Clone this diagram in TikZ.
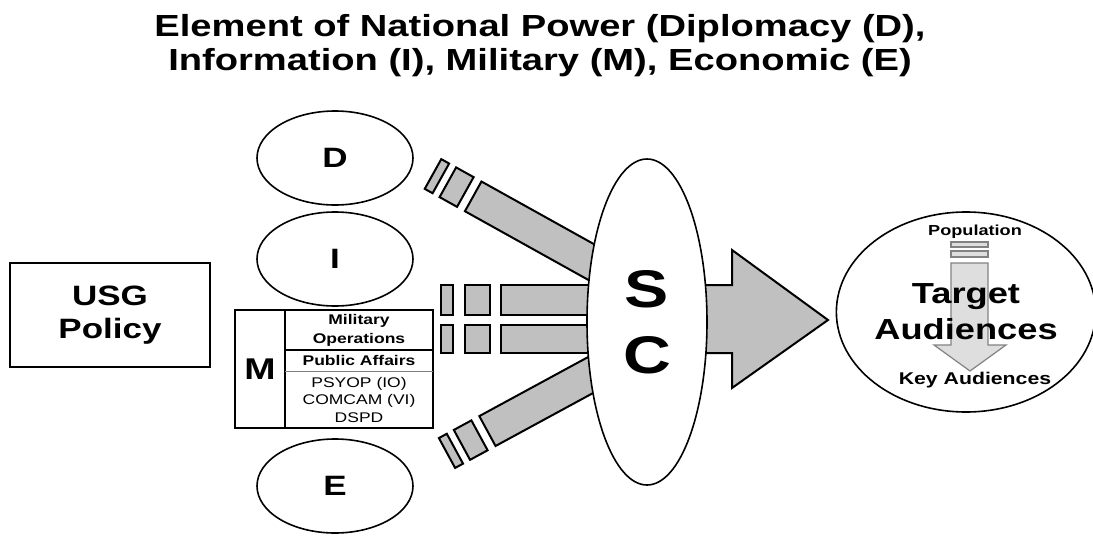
\documentclass[tikz,border=0pt]{standalone}
\usepackage{fontspec}
\setmainfont{Liberation Sans}[FakeStretch=1.25]
\usetikzlibrary{shapes.geometric}
\definecolor{scgrey}{RGB}{192,192,192}
\definecolor{tagrey}{RGB}{222,222,222}
\definecolor{taedge}{RGB}{130,130,130}

\tikzset{
  bar/.style={draw=black,line width=2pt,fill=scgrey},
  tabar/.style={draw=taedge,line width=1.2pt,fill=tagrey},
  elem/.style={ellipse,draw,line width=1.6pt,inner sep=0pt,outer sep=0pt,
    minimum width=156pt,minimum height=94pt,font=\fontsize{28}{28}\selectfont\bfseries},
  mrow/.style={anchor=north west,minimum width=148pt,inner sep=0pt,outer sep=0pt,align=center},
}

\begin{document}
\begin{tikzpicture}[x=1pt,y=-1pt,line join=miter]
  \useasboundingbox (0,0) rectangle (1093,538);

  % title
  \node[align=center,font=\fontsize{30.5}{34}\selectfont\bfseries] (title) at (540,46)
    {Element of National Power (Diplomacy (D),\\Information (I), Military (M), Economic (E)};

  % policy
  \node[draw,line width=1.6pt,minimum width=200pt,minimum height=104pt,align=center,
    font=\fontsize{28}{33}\selectfont\bfseries] (usg) at (110,315) {USG\\Policy};

  % elements of national power
  \node[elem] (D) at (335,158) {D};
  \node[elem] (I) at (335,259) {I};
  \node[elem] (E) at (335,486) {E};

  % military box
  \node[draw,line width=1.6pt,minimum width=50pt,minimum height=118pt,inner sep=0pt,outer sep=0pt,
    font=\fontsize{30}{30}\selectfont\bfseries] (M) at (260,369) {M};
  \node[mrow,minimum height=40pt,font=\fontsize{14}{19}\selectfont\bfseries] (milops) at (M.north east) {Military\\Operations};
  \node[mrow,minimum height=21pt,font=\fontsize{14}{17}\selectfont\bfseries] (pa) at (milops.south west) {Public Affairs};
  \node[mrow,minimum height=57pt,font=\fontsize{14}{17.5}\selectfont] (psyop) at (pa.south west) {PSYOP (IO)\\COMCAM (VI)\\DSPD};
  \draw[line width=1.6pt] (milops.north west) rectangle (psyop.south east);
  \draw[line width=2.4pt] (milops.south west) -- (milops.south east);
  \draw[line width=0.8pt,gray] (pa.south west) -- (pa.south east);

  % flows into SC
  \foreach \ya/\yb in {285/315,325/353}{
    \draw[bar] (441,\ya) rectangle (453,\yb);
    \draw[bar] (465,\ya) rectangle (490,\yb);
    \draw[bar] (501,\ya) rectangle (640,\yb);
  }
  \foreach \ox/\oy/\ang in {433/174/-29.1,447/453/28.5}{
    \begin{scope}[shift={(\ox,\oy)},rotate=\ang]
      \draw[bar] (0,-17) rectangle (9,17);
      \draw[bar] (17,-17) rectangle (37,17);
      \draw[bar] (46,-17) rectangle (210,17);
    \end{scope}
  }

  % big arrow out of SC
  \draw[bar] (640,285) -- (732,285) -- (732,250) -- (828,320) -- (732,388) -- (732,353) -- (640,353) -- cycle;

  \node[ellipse,draw,fill=white,line width=1.6pt,inner sep=0pt,minimum width=120pt,minimum height=326pt,
    align=center,font=\fontsize{53}{66}\selectfont\bfseries] (sc) at (647,322) {S\\C};

  % target audiences
  \draw[tabar] (951,242) rectangle (988,247);
  \draw[tabar] (951,251) rectangle (988,257);
  \draw[tabar] (951,263) -- (988,263) -- (988,345) -- (1006,345) -- (970,371) -- (934,345) -- (951,345) -- cycle;
  \node[ellipse,draw,line width=1.6pt,inner sep=0pt,minimum width=236pt,minimum height=200pt,
    align=center,font=\fontsize{29}{36}\selectfont\bfseries] (ta) at (966,312) {Target\\Audiences};
  \node[font=\fontsize{14.5}{14.5}\selectfont\bfseries] (pop) at (975,232) {Population};
  \node[font=\fontsize{17}{17}\selectfont\bfseries] (key) at (975,380) {Key Audiences};
\end{tikzpicture}
\end{document}
